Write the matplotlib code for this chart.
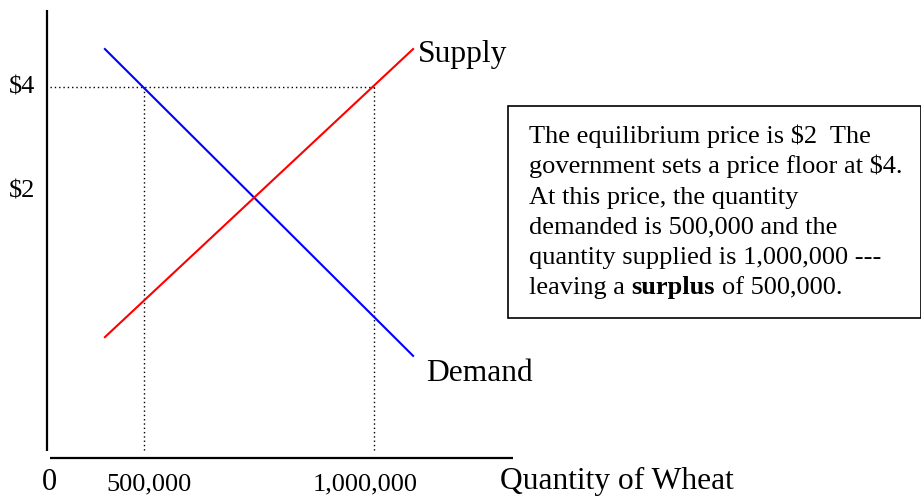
import matplotlib
matplotlib.use("Agg")
import matplotlib.pyplot as plt
from matplotlib.transforms import IdentityTransform
from matplotlib.patches import Rectangle

plt.rcParams['font.family'] = ['Liberation Serif', 'DejaVu Serif']

# ---- data (quantity in thousands of units, price in $) ----
demand_q = [415, 1085]
demand_p = [4.73, -1.17]
supply_q = [415, 1085]
supply_p = [-0.81, 4.73]

floor_price = 4.0
qty_demanded = 500
qty_supplied = 1000

price_labels = ["$4", "$2"]
price_label_vals = [4.0, 2.0]
qty_labels = ["0", "500,000", "1,000,000"]

note_lines = [
    "The equilibrium price is $2  The",
    "government sets a price floor at $4.",
    "At this price, the quantity",
    "demanded is 500,000 and the",
    "quantity supplied is 1,000,000 ---",
]
note_last = ["leaving a", "surplus", "of 500,000."]

# ---- layout: schematic axis position (data units) ----
W, H = 921, 497
def Q(xpx):
    return (xpx + 86) / 0.46
def P(ypx):
    return (295 - ypx) / 52.0

fig = plt.figure(figsize=(W / 100, H / 100), dpi=100)
ax = fig.add_axes([0, 0, 1, 1])
ax.set_xlim(Q(0), Q(W))
ax.set_ylim(P(H), P(0))
ax.axis('off')

# axes lines
ax.plot([Q(47), Q(47)], [P(10), P(451)], color='black', lw=1.6, solid_capstyle='butt')
ax.plot([Q(50), Q(513)], [P(458), P(458)], color='black', lw=1.6, solid_capstyle='butt')

# dotted guide lines
dot = dict(color='black', lw=1.0, linestyle=(0, (1, 2.1)))
ax.plot([Q(50), qty_supplied], [floor_price, floor_price], **dot)
ax.plot([qty_demanded, qty_demanded], [floor_price, P(452)], **dot)
ax.plot([qty_supplied, qty_supplied], [floor_price, P(452)], **dot)

# curves
ax.plot(demand_q, demand_p, color='#0000ff', lw=1.5)
ax.plot(supply_q, supply_p, color='#ff0000', lw=1.5)

ident = IdentityTransform()
def T(x, ytop, s, size, **kw):
    return ax.text(x, H - ytop, s, transform=ident, fontsize=size,
                   ha='left', va='baseline', **kw)

big = 22.7
small = 19

T(418, 62, "Supply", big)
T(426, 381, "Demand", big)
T(500, 489, "Quantity of Wheat", big)

# price labels
for lab, v in zip(price_labels, price_label_vals):
    ax.text(Q(9), v, lab, fontsize=small, ha='left', va='center')

# quantity labels
T(42, 490, qty_labels[0], 22)
T(106, 490, qty_labels[1], small)
T(313, 490, qty_labels[2], small)

# note box
fig.patches.append(Rectangle((508, H - 318), 920.5 - 508, 318 - 106,
                             transform=ident, fill=False, ec='black', lw=1.2,
                             figure=fig))
base = 143.3
step = 30.15
for i, line in enumerate(note_lines):
    T(529, base + i * step, line, small)
t1 = T(529, base + 5 * step, note_last[0], small)
sp = 0.25 * small
t2 = ax.annotate(note_last[1], xy=(1, 0), xycoords=t1, xytext=(sp, 0),
                 textcoords='offset points', ha='left', va='bottom',
                 fontsize=small, fontweight='bold')
ax.annotate(note_last[2], xy=(1, 0), xycoords=t2, xytext=(sp, 0),
            textcoords='offset points', ha='left', va='bottom',
            fontsize=small)

fig.savefig("out.png", dpi=100)
